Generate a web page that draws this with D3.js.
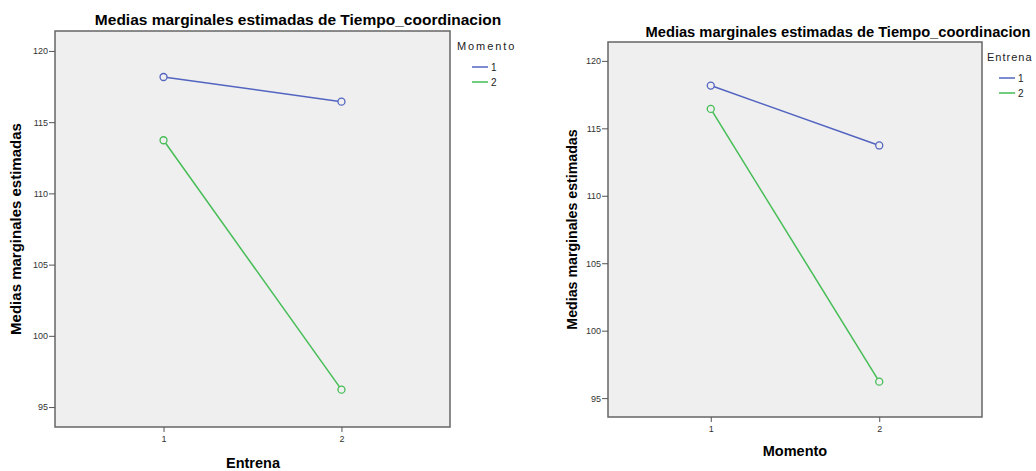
<!DOCTYPE html>
<html>
<head>
<meta charset="utf-8">
<script src="https://cdn.jsdelivr.net/npm/d3@7"></script>
<style>
  body { margin: 0; background: #fff; }
  svg { display: block; font-family: Arial, "Liberation Sans", sans-serif; }
  .axis path, .axis line { stroke: #555; }
  .axis text { fill: #333; font-size: 9px; }
</style>
</head>
<body>
<svg id="chart" width="1036" height="471"></svg>
<script>
const titleText = 'Medias marginales estimadas de Tiempo_coordinacion'
const yLabelText = 'Medias marginales estimadas'
const levels = ['1', '2']
const yTicks = [95, 100, 105, 110, 115, 120]

// left: x = Entrena, lines = Momento
const momento1 = [118.17, 116.44]
const momento2 = [113.73, 96.22]
// right: x = Momento, lines = Entrena
const entrena1 = [118.17, 113.73]
const entrena2 = [116.44, 96.22]

const colors = ['#5264c0', '#45bd55']

const svg = d3.select('#chart')

function drawPanel(p) {
  const g = svg.append('g')

  const x = d3.scalePoint()
    .domain(levels)
    .range([p.left, p.right])
    .padding(0.61)

  const y = d3.scaleLinear()
    .domain([93.6, 121.4])
    .range([p.bottom, p.top])

  g.append('rect')
    .attr('x', p.left)
    .attr('y', p.top)
    .attr('width', p.right - p.left)
    .attr('height', p.bottom - p.top)
    .attr('fill', '#efefef')
    .attr('stroke', '#666')
    .attr('stroke-width', 1.5)

  g.append('g')
    .attr('class', 'axis')
    .attr('transform', `translate(${p.left},0)`)
    .call(d3.axisLeft(y).tickValues(yTicks).tickSize(6).tickPadding(1))
    .call(a => a.select('.domain').remove())

  g.append('g')
    .attr('class', 'axis')
    .attr('transform', `translate(0,${p.bottom})`)
    .call(d3.axisBottom(x).tickSize(5).tickPadding(4))
    .call(a => a.select('.domain').remove())

  const line = d3.line()
    .x((d, i) => x(levels[i]))
    .y(d => y(d))

  p.series.forEach((vals, si) => {
    g.append('path')
      .datum(vals)
      .attr('d', line)
      .attr('fill', 'none')
      .attr('stroke', colors[si])
      .attr('stroke-width', 1.5)

    g.selectAll(null)
      .data(vals)
      .join('circle')
      .attr('cx', (d, i) => x(levels[i]))
      .attr('cy', d => y(d))
      .attr('r', 3.5)
      .attr('fill', '#efefef')
      .attr('stroke', colors[si])
      .attr('stroke-width', 1.3)
  })

  g.append('text')
    .attr('x', p.titleX)
    .attr('y', p.titleY)
    .attr('text-anchor', 'middle')
    .attr('font-weight', 'bold')
    .attr('font-size', p.titleSize)
    .text(titleText)

  g.append('text')
    .attr('transform', `translate(${p.yLabelX}, ${(p.top + p.bottom) / 2}) rotate(-90)`)
    .attr('text-anchor', 'middle')
    .attr('font-weight', 'bold')
    .attr('font-size', p.labelSize)
    .text(yLabelText)

  g.append('text')
    .attr('x', p.xLabelX)
    .attr('y', p.xLabelY)
    .attr('text-anchor', 'middle')
    .attr('font-weight', 'bold')
    .attr('font-size', 14.5)
    .text(p.xLabel)

  // legend
  const lg = g.append('g')
    .attr('transform', `translate(${p.legendX},${p.legendY})`)

  lg.append('text')
    .attr('x', 0)
    .attr('y', 0)
    .attr('font-size', 11)
    .attr('letter-spacing', p.legendSpacing)
    .attr('fill', '#222')
    .text(p.legendTitle)

  levels.forEach((lv, i) => {
    lg.append('line')
      .attr('x1', p.keyX)
      .attr('x2', p.keyX + 16)
      .attr('y1', 17 + i * 15)
      .attr('y2', 17 + i * 15)
      .attr('stroke', colors[i])
      .attr('stroke-width', 1.5)
    lg.append('text')
      .attr('x', p.keyX + 19)
      .attr('y', 21 + i * 15)
      .attr('font-size', 10)
      .attr('fill', '#222')
      .text(lv)
  })
}

drawPanel({
  left: 55, right: 450, top: 31, bottom: 427,
  series: [momento1, momento2],
  xLabel: 'Entrena',
  legendTitle: 'Momento', legendSpacing: 1.9, keyX: 15,
  titleX: 298, titleY: 25, titleSize: 15.5,
  yLabelX: 21, labelSize: 15,
  xLabelX: 253, xLabelY: 468,
  legendX: 457, legendY: 50
})

drawPanel({
  left: 608, right: 982, top: 42, bottom: 417,
  series: [entrena1, entrena2],
  xLabel: 'Momento',
  legendTitle: 'Entrena', legendSpacing: 1.0, keyX: 12,
  titleX: 838, titleY: 37, titleSize: 14.7,
  yLabelX: 577, labelSize: 14.2,
  xLabelX: 795, xLabelY: 456,
  legendX: 987, legendY: 61
})
</script>
</body>
</html>
